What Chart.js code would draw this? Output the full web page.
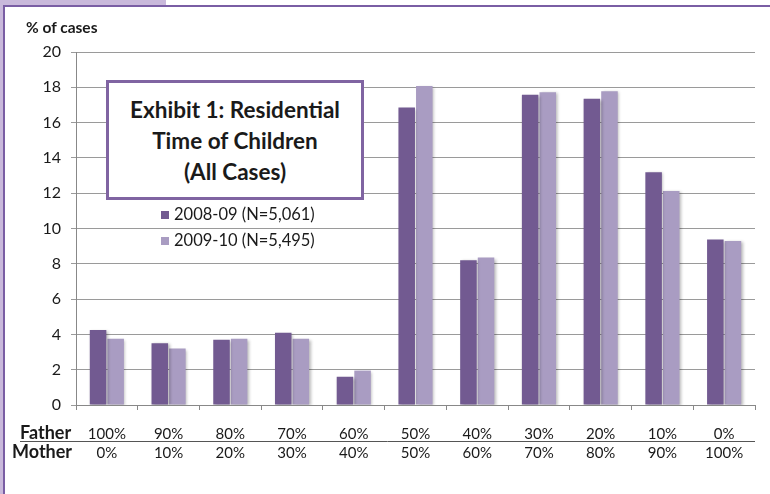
<!DOCTYPE html>
<html>
<head>
<meta charset="utf-8">
<script src="https://cdn.jsdelivr.net/npm/chart.js@4/dist/chart.umd.min.js"></script>
<style>
  body { margin: 0; background: #fff; }
  #wrap { position: relative; width: 770px; height: 494px; font-family: Lato, "Open Sans", sans-serif; color: #1a1a1a; }
  #chart { position: absolute; left: 0; top: 0; }
  .lbl { position: absolute; white-space: nowrap; }
  #ytitle { left: 26px; top: 18px; font-size: 15.5px; font-weight: bold; }
  #titlebox { position: absolute; left: 106px; top: 80px; width: 252px; height: 114px; border: 3px solid #8064a2; background: #fff;
    font-size: 22.5px; font-weight: bold; text-align: center; line-height: 31px; box-sizing: content-box; }
  #titlebox div { padding-top: 11px; }
  .leg { position: absolute; left: 161px; font-size: 16.5px; }
  .leg span.sw { display: inline-block; width: 8px; height: 8px; margin-right: 5px; vertical-align: 1px; }
  .rowlbl { font-size: 18px; font-weight: bold; }
</style>
</head>
<body>
<div id="wrap">
  <canvas id="chart" width="770" height="494"></canvas>
  <div class="lbl" id="ytitle">% of cases</div>
  <div id="titlebox"><div>Exhibit 1: Residential<br>Time of Children<br>(All Cases)</div></div>
  <div class="leg" id="leg1" style="top:204px"></div>
  <div class="leg" id="leg2" style="top:230px"></div>
  <div class="lbl rowlbl" style="left:20px; top:421px">Father</div>
  <div class="lbl rowlbl" style="left:12px; top:440px">Mother</div>
</div>
<script>
// ================= DADOS =================
const fatherShare = ["100%", "90%", "80%", "70%", "60%", "50%", "40%", "30%", "20%", "10%", "0%"];
const motherShare = ["0%", "10%", "20%", "30%", "40%", "50%", "60%", "70%", "80%", "90%", "100%"];

const serie0809 = [4.25, 3.5, 3.7, 4.1, 1.6, 16.85, 8.2, 17.58, 17.35, 13.18, 9.37];
const serie0910 = [3.75, 3.2, 3.75, 3.75, 1.95, 18.08, 8.35, 17.72, 17.77, 12.12, 9.29];

const nomeSerie = ["2008-09 (N=5,061)", "2009-10 (N=5,495)"];
const corSerie = ["#725a91", "#a99cc2"];

const yTicks = [0, 2, 4, 6, 8, 10, 12, 14, 16, 18, 20];

// ================= LEGENDA =================
["leg1", "leg2"].forEach((id, i) => {
  document.getElementById(id).innerHTML =
    `<span class="sw" style="background:${corSerie[i]}"></span>${nomeSerie[i]}`;
});

// ================= PLUGINS =================
const moldura = {
  id: "moldura",
  beforeDraw(chart) {
    const ctx = chart.ctx;
    ctx.save();
    ctx.fillStyle = "#c9b9db";
    ctx.fillRect(0, 0, 166, 5);
    ctx.fillRect(0, 0, 3, 494);
    ctx.fillStyle = "#7a5ea4";
    ctx.fillRect(3, 5, 767, 2);
    ctx.fillRect(3, 5, 2, 489);
    ctx.restore();
  },
  afterDraw(chart) {
    const ctx = chart.ctx;
    ctx.save();
    ctx.strokeStyle = "#555";
    ctx.lineWidth = 1;
    ctx.beginPath();
    ctx.moveTo(20, 441.5);
    ctx.lineTo(755, 441.5);
    ctx.stroke();
    ctx.restore();
  }
};

const sombra = {
  id: "sombra",
  beforeDatasetsDraw(chart) {
    const ctx = chart.ctx;
    ctx.save();
    ctx.shadowColor = "rgba(0,0,0,0.28)";
    ctx.shadowOffsetX = 1.5;
    ctx.shadowOffsetY = 1;
    ctx.shadowBlur = 3;
  },
  afterDatasetsDraw(chart) {
    chart.ctx.restore();
  }
};

// ================= GRAFICO =================
new Chart(document.getElementById("chart"), {
  type: "bar",
  data: {
    labels: fatherShare.map((f, i) => [f, motherShare[i]]),
    datasets: [
      { label: nomeSerie[0], data: serie0809, backgroundColor: corSerie[0] },
      { label: nomeSerie[1], data: serie0910, backgroundColor: corSerie[1] }
    ]
  },
  options: {
    responsive: false,
    animation: false,
    layout: { padding: { top: 52, right: 15, bottom: 0, left: 0 } },
    datasets: { bar: { categoryPercentage: 0.57, barPercentage: 0.94 } },
    plugins: { legend: { display: false }, tooltip: { enabled: false } },
    scales: {
      x: {
        afterFit: s => { s.height = 89; },
        grid: { display: true, drawOnChartArea: false, drawTicks: true, tickLength: 5, color: "#888", offset: true },
        border: { display: true, color: "#888" },
        ticks: {
          color: "#1a1a1a",
          padding: 15,
          maxRotation: 0,
          font: { family: "Lato", size: 15, lineHeight: 1.27 }
        }
      },
      y: {
        min: 0,
        max: 20,
        afterFit: s => { s.width = 76; },
        afterBuildTicks: s => { s.ticks = yTicks.map(v => ({ value: v })); },
        grid: { color: "#9a9a9a", tickLength: 5 },
        border: { display: true, color: "#888" },
        ticks: {
          color: "#1a1a1a",
          padding: 10,
          font: { family: "Lato", size: 16 }
        }
      }
    }
  },
  plugins: [moldura, sombra]
});
</script>
</body>
</html>
